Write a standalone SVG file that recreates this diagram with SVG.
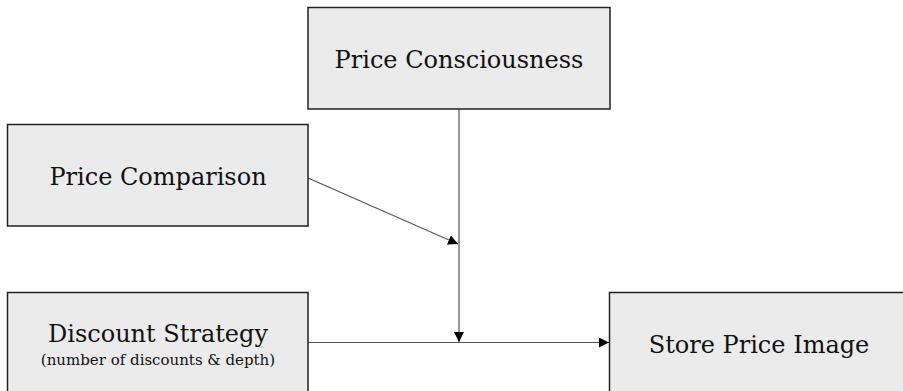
<svg xmlns="http://www.w3.org/2000/svg" width="903" height="391" viewBox="0 0 903 391">
<defs>
<style>
.box{fill:#ebebeb;stroke:#222;stroke-width:1.5}
.t{font-family:"DejaVu Serif","Liberation Serif",serif;font-size:24px;fill:#111;text-anchor:middle}
.s{font-family:"DejaVu Serif","Liberation Serif",serif;font-size:15px;fill:#111;text-anchor:middle}
.c{stroke:#555;stroke-width:1.2;fill:none}
</style>
<marker id="a" viewBox="0 0 10 10" refX="10" refY="5" markerWidth="10" markerHeight="10" markerUnits="userSpaceOnUse" orient="auto">
<path d="M0,0 L10,5 L0,10 z" fill="#000"/>
</marker>
</defs>
<rect width="903" height="391" fill="#fff"/>
<g id="connectors">
<line class="c" x1="459" y1="109" x2="459" y2="342" marker-end="url(#a)"/>
<line class="c" x1="308" y1="178" x2="458" y2="244" marker-end="url(#a)"/>
<line class="c" x1="308" y1="342.5" x2="609" y2="342.5" marker-end="url(#a)"/>
</g>
<g id="price-consciousness">
<rect class="box" x="308" y="7.5" width="302" height="101.5"/>
<text class="t" x="459" y="68">Price Consciousness</text>
</g>
<g id="price-comparison">
<rect class="box" x="7.5" y="124.5" width="300.5" height="101.5"/>
<text class="t" x="158" y="185">Price Comparison</text>
</g>
<g id="discount-strategy">
<rect class="box" x="7.5" y="292.5" width="300.5" height="102"/>
<text class="t" x="158" y="342">Discount Strategy</text>
<text class="s" x="158" y="365">(number of discounts &amp; depth)</text>
</g>
<g id="store-price-image">
<rect class="box" x="609.5" y="292.5" width="300" height="102"/>
<text class="t" x="759" y="353">Store Price Image</text>
</g>
</svg>
